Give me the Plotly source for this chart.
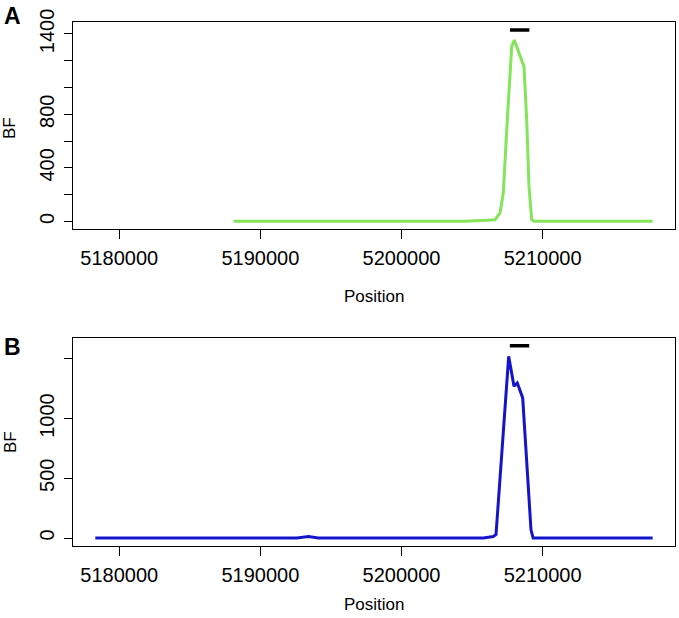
import plotly.graph_objects as go

# ---- data ----
posA = [5188100, 5193000, 5193400, 5193800, 5204500, 5206000, 5206627, 5206981, 5207215,
        5207498, 5207689, 5207810, 5207994, 5208519, 5208682, 5208873, 5209036,
        5209227, 5209390, 5217800]
bfA = [0, 0, 3, 0, 0, 8, 12, 63, 212, 758, 1131, 1305, 1355, 1193, 1156, 758, 261, 13, 0, 0]

posB = [5178300, 5192600, 5193400, 5194100, 5205800, 5206500, 5206700, 5207597,
        5207973, 5208207, 5208590, 5209178, 5209330, 5217800]
bfB = [0, 0, 12, 0, 0, 12, 30, 1521, 1270, 1298, 1173, 69, 0, 0]

barA_x = [5207690, 5209060]
barA_y = [1430, 1430]
barB_x = [5207680, 5209050]
barB_y = [1610, 1610]

x_ticks = [5180000, 5190000, 5200000, 5210000]
yA_ticks = [0, 200, 400, 600, 800, 1000, 1200, 1400]
yA_text = ["0", "", "400", "", "800", "", "", "1400"]
yB_ticks = [0, 500, 1000, 1500]
yB_text = ["0", "500", "1000", ""]

x_range = [5176740, 5219384]
yA_range = [-57.2, 1487.2]
yB_range = [-64.4, 1674.4]

FONT = "Liberation Sans, Arial, Helvetica, sans-serif"
W, H = 679, 618

fig = go.Figure()
fig.add_trace(go.Scatter(x=posA, y=bfA, mode="lines", line=dict(color="#84E45A", width=3),
                         xaxis="x", yaxis="y", showlegend=False))
fig.add_trace(go.Scatter(x=barA_x, y=barA_y, mode="lines", line=dict(color="black", width=3.5),
                         xaxis="x", yaxis="y", showlegend=False))
fig.add_trace(go.Scatter(x=posB, y=bfB, mode="lines", line=dict(color="#1414CC", width=3),
                         xaxis="x2", yaxis="y2", showlegend=False))
fig.add_trace(go.Scatter(x=barB_x, y=barB_y, mode="lines", line=dict(color="black", width=3.5),
                         xaxis="x2", yaxis="y2", showlegend=False))

xdom = [73.3 / W, 675 / W]
ydomA = [(H - 229) / H, (H - 22.3) / H]
ydomB = [(H - 545.7) / H, (H - 338) / H]

common_x = dict(range=x_range, tickvals=x_ticks, ticktext=[str(t) for t in x_ticks],
                showgrid=False, zeroline=False, showline=True, mirror=True, automargin=False,
                linecolor="black", linewidth=1.4, ticks="outside", ticklen=9,
                tickwidth=1.3, tickcolor="black", ticklabelstandoff=2,
                tickfont=dict(family=FONT, size=20, color="black"), domain=xdom)
common_y = dict(showgrid=False, zeroline=False, showline=True, mirror=True, automargin=False,
                linecolor="black", linewidth=1.4, ticks="outside", ticklen=8,
                tickwidth=1.3, tickcolor="black", tickangle=-90, ticklabelstandoff=2,
                tickfont=dict(family=FONT, size=20, color="black"))

fig.update_layout(
    template="none",
    width=W, height=H,
    margin=dict(l=0, r=0, t=0, b=0, pad=0),
    paper_bgcolor="white", plot_bgcolor="white",
    xaxis=dict(anchor="y", **common_x),
    xaxis2=dict(anchor="y2", **common_x),
    yaxis=dict(anchor="x", domain=ydomA, range=yA_range, tickvals=yA_ticks, ticktext=yA_text, **common_y),
    yaxis2=dict(anchor="x2", domain=ydomB, range=yB_range, tickvals=yB_ticks, ticktext=yB_text, **common_y),
    font=dict(family=FONT, size=18, color="black"),
)

ann = []
def add_text(text, x, y, size=18, angle=0, bold=False, xanchor="center", yanchor="middle"):
    ann.append(dict(text=("<b>%s</b>" % text) if bold else text, x=x / W, y=(H - y) / H,
                    xref="paper", yref="paper", showarrow=False, textangle=angle,
                    font=dict(family=FONT, size=size, color="black"),
                    xanchor=xanchor, yanchor=yanchor))

add_text("A", 12, 16, size=23, bold=True)
add_text("B", 12, 347, size=23, bold=True)
add_text("BF", 10, 128, angle=-90, size=17)
add_text("BF", 10, 442, angle=-90, size=17)
add_text("Position", 374, 296, size=17)
add_text("Position", 374, 604, size=17)
fig.update_layout(annotations=ann)

fig.write_html("out.html",
               config={"displayModeBar": False},
               post_script="document.body.style.margin='0';document.body.style.overflow='hidden';")
